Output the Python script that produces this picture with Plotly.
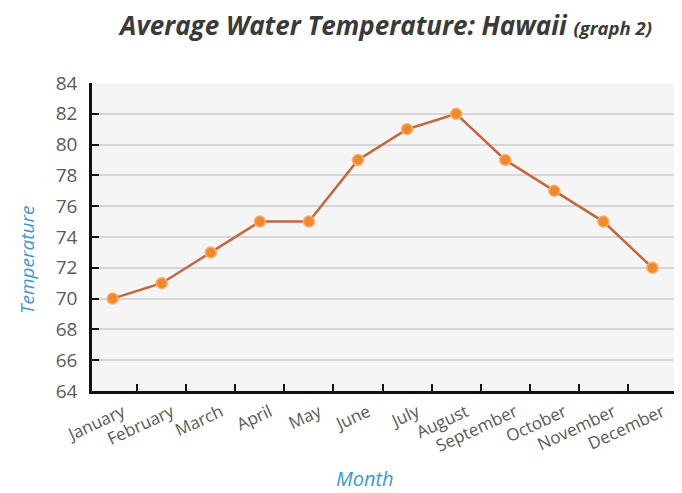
import plotly.graph_objects as go

months = ["January", "February", "March", "April", "May", "June", "July",
          "August", "September", "October", "November", "December"]
temps = [70, 71, 73, 75, 75, 79, 81, 82, 79, 77, 75, 72]
y_ticks = [64, 66, 68, 70, 72, 74, 76, 78, 80, 82, 84]

FONT = "Open Sans"

# page body has an 8px default margin; figure is sized to fit inside it
W, H = 674, 485

fig = go.Figure()
fig.add_trace(go.Scatter(
    x=months, y=temps, mode="lines+markers",
    line=dict(color="#c4673b", width=2.5),
    marker=dict(size=11, color="#f08a28", line=dict(color="#f6b070", width=1.5)),
    showlegend=False, cliponaxis=False,
))

fig.update_layout(
    width=W, height=H,
    margin=dict(l=84, r=5, t=75, b=102),
    paper_bgcolor="white",
    plot_bgcolor="#f5f5f5",
    title=dict(
        text="<b><i>Average Water Temperature: Hawaii <span style='font-size:18.5px'>(graph 2)</span></i></b>",
        x=378 / W, xanchor="center", y=1 - 18 / H, yanchor="middle",
        font=dict(family=FONT, size=26, color="#3a3a3a"),
    ),
    xaxis=dict(
        type="category", range=[-0.42, 11.5],
        tickson="boundaries", ticks="inside", ticklen=7, tickwidth=2, tickcolor="#111",
        showline=True, linecolor="#111", linewidth=2.5,
        showgrid=False, tickangle=-25, ticklabelshift=10, ticklabelstandoff=2,
        tickfont=dict(family=FONT, size=17, color="#5a5a5a"),
        automargin=False,
    ),
    yaxis=dict(
        range=[64, 84], tickvals=y_ticks,
        ticks="inside", ticklen=7, tickwidth=2, tickcolor="#111",
        showline=True, linecolor="#111", linewidth=2.5,
        showgrid=True, gridcolor="#d6d6d6", gridwidth=2,
        zeroline=False, ticklabelstandoff=8,
        tickfont=dict(family=FONT, size=19, color="#5a5a5a"),
        automargin=False,
    ),
    annotations=[
        dict(text="<i>Temperature</i>", xref="paper", yref="paper",
             x=(19 - 84) / (W - 89), y=(H - 102 - 252) / (H - 177), textangle=-90, showarrow=False,
             xanchor="center", yanchor="middle",
             font=dict(family=FONT, size=19, color="#3d96cc")),
        dict(text="<i>Month</i>", xref="paper", yref="paper",
             x=(357 - 84) / (W - 89), y=-(470 - (H - 102)) / (H - 177), showarrow=False,
             xanchor="center", yanchor="middle",
             font=dict(family=FONT, size=20, color="#3d96cc")),
    ],
)

fig.write_html("out.html")
